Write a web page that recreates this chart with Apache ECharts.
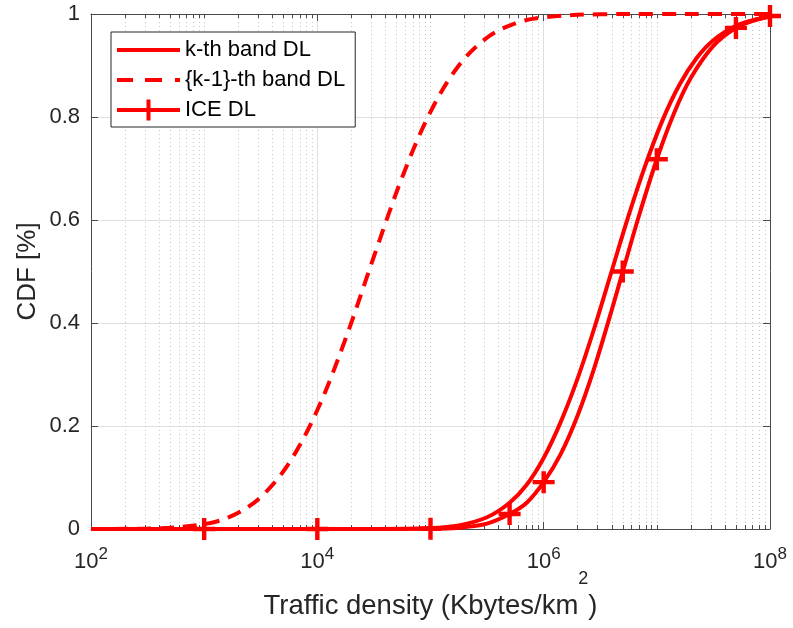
<!DOCTYPE html>
<html>
<head>
<meta charset="utf-8">
<script src="https://cdn.jsdelivr.net/npm/echarts@6/dist/echarts.min.js"></script>
<style>
  html, body { margin: 0; padding: 0; background: #ffffff; }
  #chart { width: 793px; height: 628px; }
</style>
</head>
<body>
<div id="chart"></div>
<script>
// Traffic density (Kbytes/km^2) sample points and CDF values per curve
const kthX = [1e2, 1e3, 1e4, 3.16e4, 1e5, 1.78e5, 3.16e5, 5e5, 7.08e5, 1e6, 1.41e6, 2e6, 2.82e6,
              3.98e6, 5.62e6, 7.94e6, 1.12e7, 1.58e7, 2.24e7, 3.16e7, 5e7, 7.08e7, 1e8];
const kthY = [0, 0, 0, 0, 0.0018, 0.007, 0.0228, 0.051, 0.086, 0.138, 0.207, 0.293, 0.392,
              0.5, 0.608, 0.707, 0.793, 0.862, 0.914, 0.949, 0.977, 0.988, 0.9945];

const prevX = [1e2, 3.16e2, 1e3, 1.78e3, 3.16e3, 5.62e3, 1e4, 1.78e4, 3.16e4, 5.62e4, 1e5,
               1.78e5, 3.16e5, 5.62e5, 1e6, 3.16e6, 1e7, 3.16e7, 1e8];
const prevY = [0, 0.0008, 0.0094, 0.026, 0.062, 0.128, 0.231, 0.370, 0.529, 0.683, 0.810,
               0.900, 0.954, 0.982, 0.9936, 0.9995, 1, 1, 1];

const iceX = [1e2, 1e3, 1e4, 1e5, 1.78e5, 3.16e5, 5e5, 7.08e5, 1e6, 1.41e6, 2e6, 2.82e6, 3.98e6,
              5e6, 7.08e6, 1e7, 1.41e7, 2e7, 3.16e7, 5e7, 7.08e7, 1e8];
const iceY = [0, 0, 0, 0.0005, 0.0026, 0.0105, 0.029, 0.051, 0.091, 0.145, 0.221, 0.315, 0.424,
              0.5, 0.614, 0.718, 0.806, 0.876, 0.938, 0.973, 0.9865, 0.996];
// Points of the ICE curve that carry a "+" marker
const iceMarkerX = [1e3, 1e4, 1e5, 5e5, 1e6, 5e6, 1e7, 5e7, 1e8];

const seriesNames = ['k-th band DL', '{k-1}-th band DL', 'ICE DL'];

// Axis ticks
const xMajorTicks = [1e2, 1e4, 1e6, 1e8];
const decades = [1e2, 1e3, 1e4, 1e5, 1e6, 1e7];
const xMinorTicks = [];
decades.forEach(function (d) {
  for (let k = 1; k <= 9; k++) {
    const v = d * k;
    if (xMajorTicks.indexOf(v) < 0) xMinorTicks.push(v);
  }
});

const RED = '#ff0000';
const AXIS = '#4a4a4a';
const TEXT = '#262626';
const FONT = 'Liberation Sans, Arial, Helvetica, sans-serif';
const PLUS = 'path://M-2,-10L2,-10L2,-2L10,-2L10,2L2,2L2,10L-2,10L-2,2L-10,2L-10,-2L-2,-2Z';
// Legend glyphs: solid stroke, dashed stroke, stroke with a "+" marker
const SOLID_ICON = 'path://M0,0L63,0L63,4L0,4Z';
const DASH_ICON = 'path://M0,0L16,0L16,4L0,4Z M28,0L45,0L45,4L28,4Z M58,0L63,0L63,4L58,4Z';
const MARK_ICON = 'path://M0,-2L29.5,-2L29.5,-10.5L33.5,-10.5L33.5,-2L63,-2L63,2L33.5,2L33.5,10.5L29.5,10.5L29.5,2L0,2Z';

function pairs(xs, ys) {
  return xs.map(function (x, i) { return [x, ys[i]]; });
}

const iceData = iceX.map(function (x, i) {
  const marked = iceMarkerX.indexOf(x) >= 0;
  return marked ? { value: [x, iceY[i]] } : { value: [x, iceY[i]], symbol: 'none' };
});

function xAxisBase(extra) {
  return Object.assign({
    type: 'log',
    logBase: 10,
    min: 1e2,
    max: 1e8,
    gridIndex: 0,
    axisLine: { show: false },
    axisLabel: { show: false },
    axisTick: { show: false },
    splitLine: { show: false }
  }, extra);
}

const chart = echarts.init(document.getElementById('chart'), null, { renderer: 'canvas' });

chart.setOption({
  animation: false,
  backgroundColor: '#ffffff',
  grid: { left: 91, right: 23, top: 14, bottom: 99, containLabel: false, outerBoundsMode: 'none' },
  legend: {
    left: 111,
    top: 32,
    orient: 'vertical',
    data: [
      { name: seriesNames[0], icon: SOLID_ICON },
      { name: seriesNames[1], icon: DASH_ICON },
      { name: seriesNames[2], icon: MARK_ICON }
    ],
    itemWidth: 63,
    itemHeight: 26,
    itemGap: 8,
    padding: [7, 10, 6, 6],
    backgroundColor: '#ffffff',
    borderColor: '#262626',
    borderWidth: 1,
    itemStyle: { color: RED },
    textStyle: { fontFamily: FONT, fontSize: 22, color: '#000000' }
  },
  xAxis: [
    // bottom axis: labels, major ticks, major grid
    xAxisBase({
      position: 'bottom',
      axisLine: { show: true, lineStyle: { color: AXIS, width: 1 } },
      axisTick: { show: true, inside: true, length: 7, customValues: xMajorTicks, lineStyle: { color: AXIS } },
      axisLabel: {
        show: true,
        customValues: xMajorTicks,
        margin: 17,
        formatter: function (v) {
          return '{b|10}{s|' + Math.round(Math.log10(v)) + '}';
        },
        rich: {
          b: { fontFamily: FONT, fontSize: 22, color: TEXT, verticalAlign: 'bottom', lineHeight: 27 },
          s: { fontFamily: FONT, fontSize: 17, color: TEXT, verticalAlign: 'top', lineHeight: 17 }
        }
      },
      splitLine: { show: true, lineStyle: { color: '#e0e0e0', width: 1, type: 'solid' } },
      name: '{a|Traffic density (Kbytes/km}{s|2}{a|)}',
      nameLocation: 'middle',
      nameGap: 41,
      nameMoveOverlap: false,
      nameTextStyle: {
        rich: {
          a: { fontFamily: FONT, fontSize: 27.5, color: TEXT, verticalAlign: 'bottom', lineHeight: 50 },
          s: { fontFamily: FONT, fontSize: 18, color: TEXT, verticalAlign: 'top', lineHeight: 18 }
        }
      }
    }),
    // bottom axis: minor ticks and dotted minor grid
    xAxisBase({
      position: 'bottom',
      axisTick: { show: true, inside: true, length: 4, customValues: xMinorTicks, lineStyle: { color: AXIS } },
      splitLine: { show: true, lineStyle: { color: '#c8c8c8', width: 1, type: [1, 3] } }
    }),
    // top frame: major ticks
    xAxisBase({
      position: 'top',
      axisLine: { show: true, lineStyle: { color: AXIS, width: 1 } },
      axisTick: { show: true, inside: true, length: 7, customValues: xMajorTicks, lineStyle: { color: AXIS } }
    }),
    // top frame: minor ticks
    xAxisBase({
      position: 'top',
      axisTick: { show: true, inside: true, length: 4, customValues: xMinorTicks, lineStyle: { color: AXIS } }
    })
  ],
  yAxis: [
    {
      type: 'value',
      min: 0,
      max: 1,
      interval: 0.2,
      position: 'left',
      axisLine: { show: true, lineStyle: { color: AXIS, width: 1 } },
      axisTick: { show: true, inside: true, length: 7, lineStyle: { color: AXIS } },
      axisLabel: {
        fontFamily: FONT, fontSize: 22, color: TEXT, margin: 11,
        formatter: function (v) { return String(Math.round(v * 10) / 10); }
      },
      splitLine: { show: true, lineStyle: { color: '#e0e0e0', width: 1 } },
      name: 'CDF [%]',
      nameLocation: 'middle',
      nameGap: 50,
      nameMoveOverlap: false,
      nameTextStyle: { fontFamily: FONT, fontSize: 26, color: TEXT }
    },
    {
      type: 'value',
      min: 0,
      max: 1,
      interval: 0.2,
      position: 'right',
      axisLine: { show: true, lineStyle: { color: AXIS, width: 1 } },
      axisTick: { show: true, inside: true, length: 7, lineStyle: { color: AXIS } },
      axisLabel: { show: false },
      splitLine: { show: false }
    }
  ],
  series: [
    {
      name: seriesNames[0],
      type: 'line',
      xAxisIndex: 0,
      yAxisIndex: 0,
      data: pairs(kthX, kthY),
      smooth: 0.35,
      symbol: 'none',
      lineStyle: { color: RED, width: 4 },
      itemStyle: { color: RED },
      z: 3
    },
    {
      name: seriesNames[1],
      type: 'line',
      xAxisIndex: 0,
      yAxisIndex: 0,
      data: pairs(prevX, prevY),
      smooth: 0.35,
      symbol: 'none',
      lineStyle: { color: RED, width: 4, type: [14, 9] },
      itemStyle: { color: RED },
      z: 3
    },
    {
      name: seriesNames[2],
      type: 'line',
      xAxisIndex: 0,
      yAxisIndex: 0,
      data: iceData,
      smooth: 0.35,
      symbol: PLUS,
      symbolSize: 22,
      showAllSymbol: true,
      lineStyle: { color: RED, width: 4 },
      itemStyle: { color: RED, borderWidth: 0 },
      z: 4
    }
  ]
});
</script>
</body>
</html>
